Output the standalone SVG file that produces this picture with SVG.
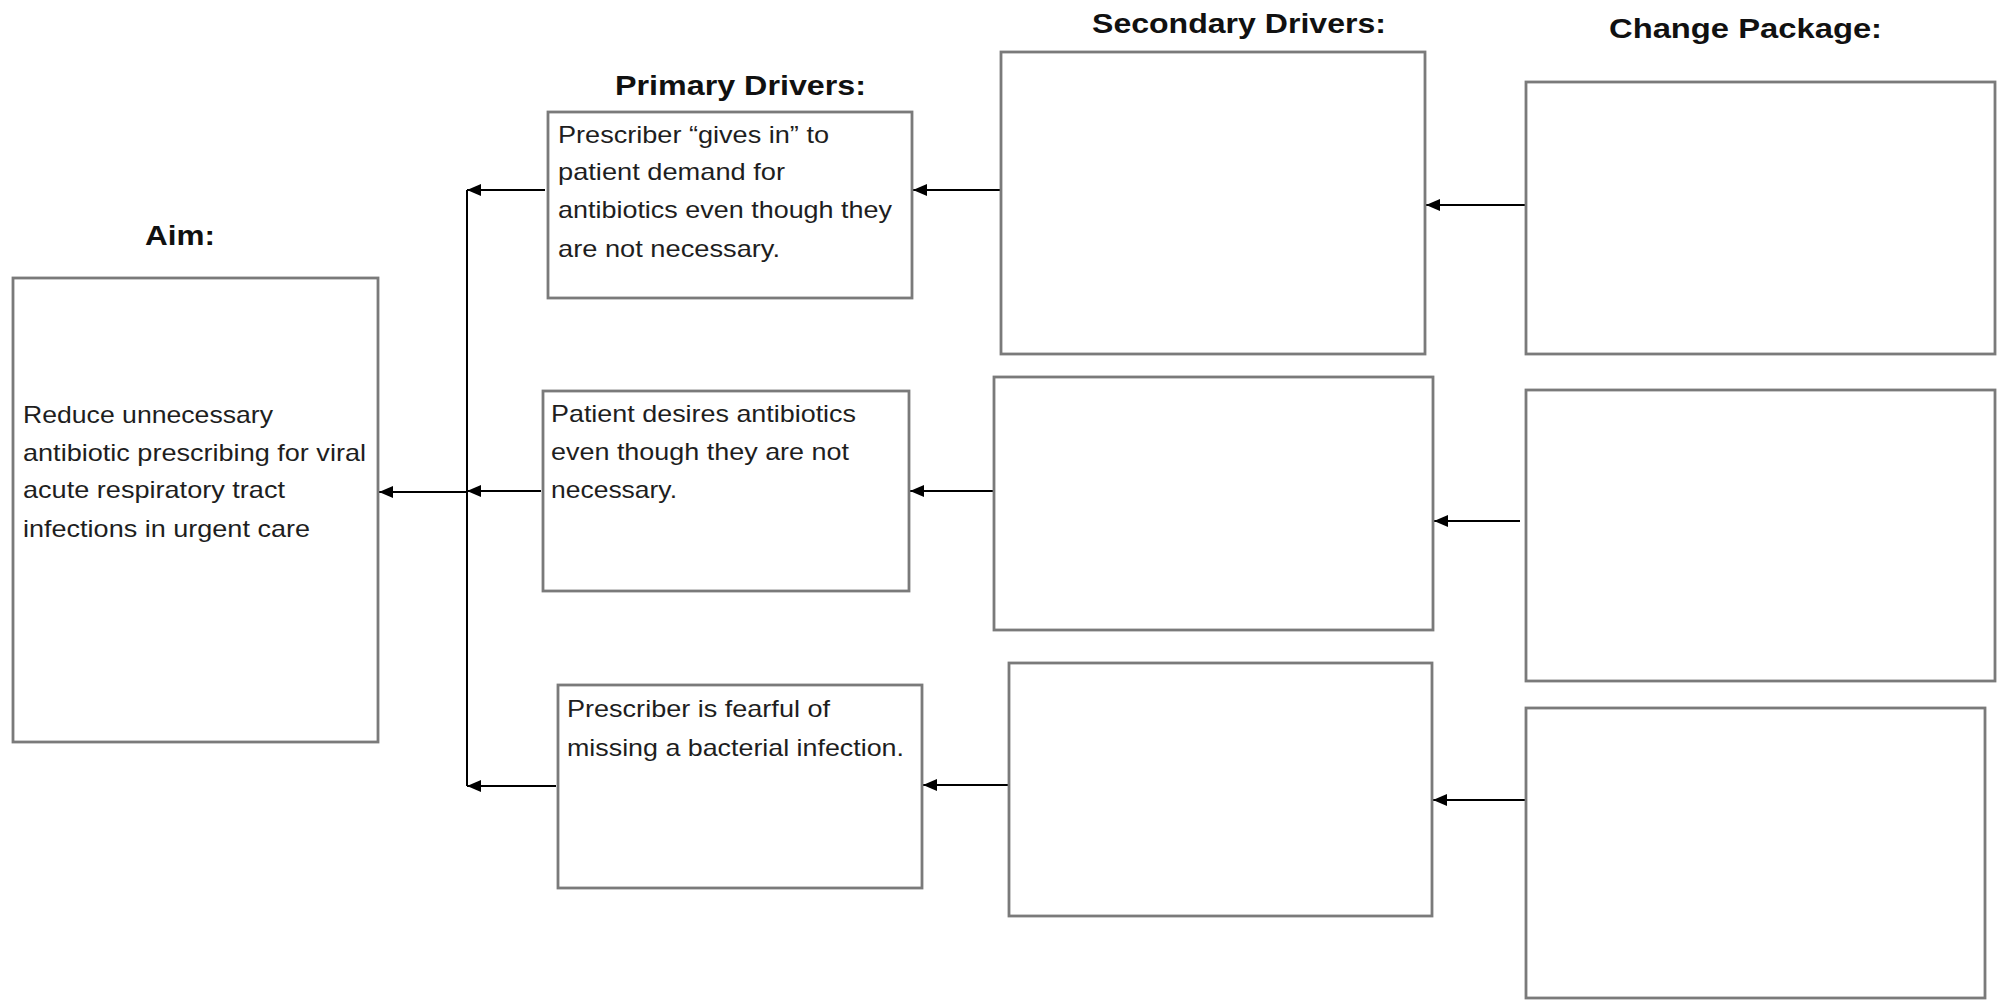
<svg xmlns="http://www.w3.org/2000/svg" width="1997" height="1000" viewBox="0 0 1997 1000">
  <style>
    .box { fill: #ffffff; stroke: #7a7a7a; stroke-width: 2.8; }
    .body { font-family: "Liberation Sans", Arial, sans-serif; font-size: 24px; fill: #1e1e1e; }
    .title { font-family: "Liberation Sans", Arial, sans-serif; font-size: 28px; font-weight: bold; fill: #111111; }
    .link { stroke: #000000; stroke-width: 2; fill: none; marker-end: url(#head); }
    .bus { stroke: #000000; stroke-width: 2; fill: none; }
  </style>
  <defs>
    <marker id="head" viewBox="0 0 14 12" refX="14" refY="6" markerWidth="14" markerHeight="12" markerUnits="userSpaceOnUse" orient="auto">
      <path d="M0,0 L14,6 L0,12 z" fill="#000000"/>
    </marker>
  </defs>
  <rect width="1997" height="1000" fill="#ffffff"/>

  <!-- column headings -->
  <g id="headings">
    <text class="title" x="145" y="245" textLength="70" lengthAdjust="spacingAndGlyphs">Aim:</text>
    <text class="title" x="615" y="95" textLength="251" lengthAdjust="spacingAndGlyphs">Primary Drivers:</text>
    <text class="title" x="1092" y="33" textLength="294" lengthAdjust="spacingAndGlyphs">Secondary Drivers:</text>
    <text class="title" x="1609" y="38" textLength="273" lengthAdjust="spacingAndGlyphs">Change Package:</text>
  </g>

  <!-- connectors -->
  <g id="connectors">
    <line class="bus" x1="467" y1="190" x2="467" y2="786"/>
    <line class="link" x1="467" y1="492" x2="379" y2="492"/>
    <line class="link" x1="545" y1="190" x2="467" y2="190"/>
    <line class="link" x1="541" y1="491" x2="467" y2="491"/>
    <line class="link" x1="556" y1="786" x2="467" y2="786"/>
    <line class="link" x1="1001" y1="190" x2="913" y2="190"/>
    <line class="link" x1="994" y1="491" x2="910" y2="491"/>
    <line class="link" x1="1009" y1="785" x2="923" y2="785"/>
    <line class="link" x1="1526" y1="205" x2="1426" y2="205"/>
    <line class="link" x1="1520" y1="521" x2="1434" y2="521"/>
    <line class="link" x1="1526" y1="800" x2="1433" y2="800"/>
  </g>

  <!-- aim -->
  <g id="aim">
    <rect class="box" x="13" y="278" width="365" height="464"/>
    <text class="body" x="23" y="423" textLength="250" lengthAdjust="spacingAndGlyphs">Reduce unnecessary</text>
    <text class="body" x="23" y="461" textLength="343" lengthAdjust="spacingAndGlyphs">antibiotic prescribing for viral</text>
    <text class="body" x="23" y="498" textLength="262" lengthAdjust="spacingAndGlyphs">acute respiratory tract</text>
    <text class="body" x="23" y="537" textLength="287" lengthAdjust="spacingAndGlyphs">infections in urgent care</text>
  </g>

  <!-- primary drivers -->
  <g id="primary-1">
    <rect class="box" x="548" y="112" width="364" height="186"/>
    <text class="body" x="558" y="143" textLength="271" lengthAdjust="spacingAndGlyphs">Prescriber “gives in” to</text>
    <text class="body" x="558" y="180" textLength="227" lengthAdjust="spacingAndGlyphs">patient demand for</text>
    <text class="body" x="558" y="218" textLength="334" lengthAdjust="spacingAndGlyphs">antibiotics even though they</text>
    <text class="body" x="558" y="257" textLength="222" lengthAdjust="spacingAndGlyphs">are not necessary.</text>
  </g>
  <g id="primary-2">
    <rect class="box" x="543" y="391" width="366" height="200"/>
    <text class="body" x="551" y="422" textLength="305" lengthAdjust="spacingAndGlyphs">Patient desires antibiotics</text>
    <text class="body" x="551" y="460" textLength="298" lengthAdjust="spacingAndGlyphs">even though they are not</text>
    <text class="body" x="551" y="498" textLength="126" lengthAdjust="spacingAndGlyphs">necessary.</text>
  </g>
  <g id="primary-3">
    <rect class="box" x="558" y="685" width="364" height="203"/>
    <text class="body" x="567" y="717" textLength="263" lengthAdjust="spacingAndGlyphs">Prescriber is fearful of</text>
    <text class="body" x="567" y="756" textLength="337" lengthAdjust="spacingAndGlyphs">missing a bacterial infection.</text>
  </g>

  <!-- secondary drivers -->
  <g id="secondary-1"><rect class="box" x="1001" y="52" width="424" height="302"/></g>
  <g id="secondary-2"><rect class="box" x="994" y="377" width="439" height="253"/></g>
  <g id="secondary-3"><rect class="box" x="1009" y="663" width="423" height="253"/></g>

  <!-- change package -->
  <g id="change-1"><rect class="box" x="1526" y="82" width="469" height="272"/></g>
  <g id="change-2"><rect class="box" x="1526" y="390" width="469" height="291"/></g>
  <g id="change-3"><rect class="box" x="1526" y="708" width="459" height="290"/></g>
</svg>
